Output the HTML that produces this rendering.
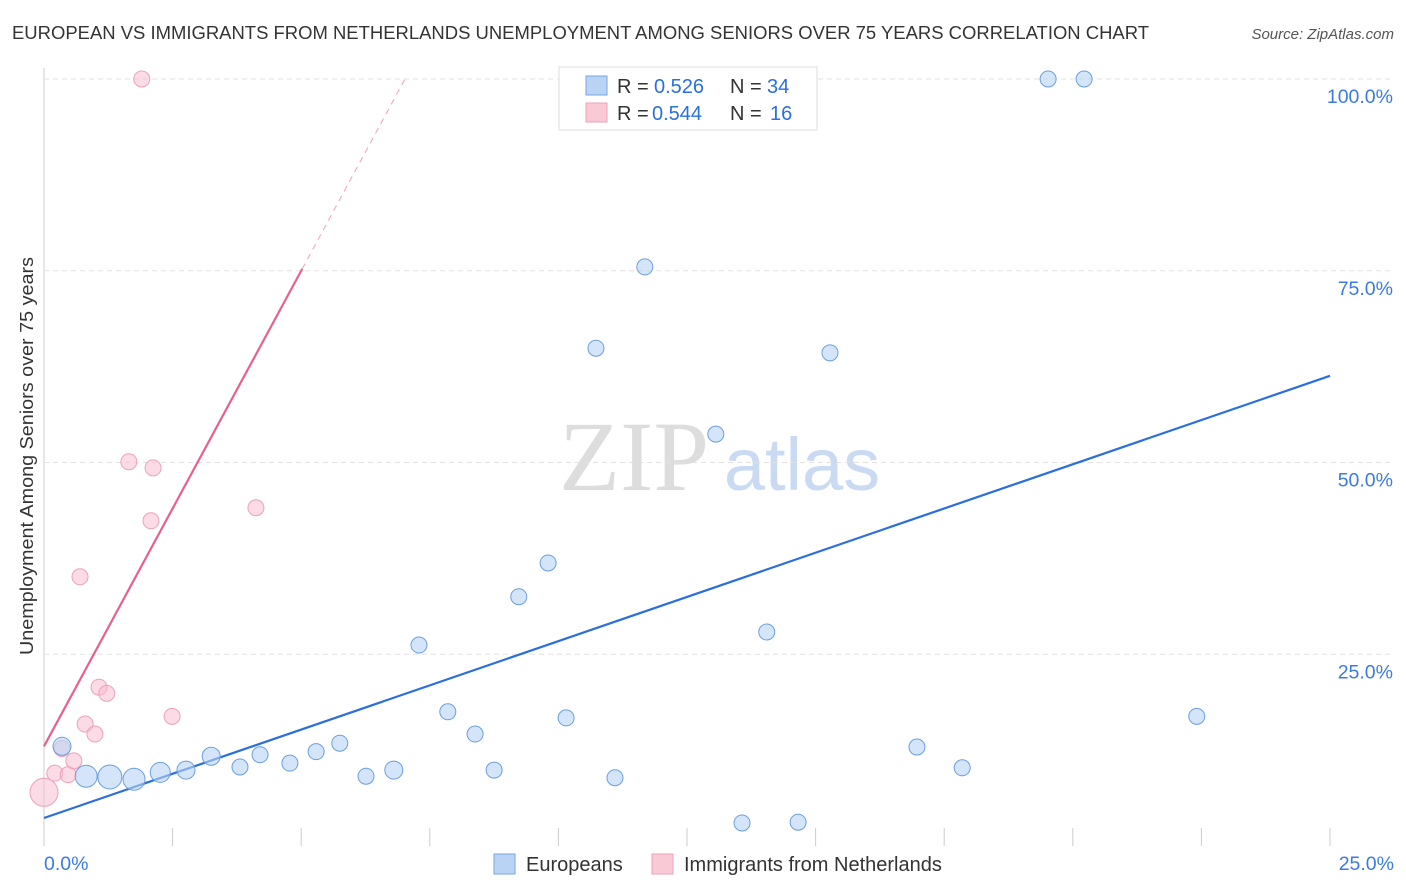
<!DOCTYPE html>
<html><head><meta charset="utf-8">
<style>
body{margin:0;background:#fff;font-family:"Liberation Sans",sans-serif;}
#wrap{position:relative;width:1406px;height:892px;overflow:hidden}
</style></head>
<body>
<div id="wrap">
<svg id="svg" width="1406" height="892" xmlns="http://www.w3.org/2000/svg">
<text x="12" y="39" font-size="18" fill="#333" textLength="1137" lengthAdjust="spacingAndGlyphs">EUROPEAN VS IMMIGRANTS FROM NETHERLANDS UNEMPLOYMENT AMONG SENIORS OVER 75 YEARS CORRELATION CHART</text>
<text x="1394" y="39" font-size="15" fill="#555" font-style="italic" text-anchor="end">Source: ZipAtlas.com</text>
<text x="33" y="655" font-size="18" fill="#333" textLength="398" lengthAdjust="spacingAndGlyphs" transform="rotate(-90 33 655)">Unemployment Among Seniors over 75 years</text>
<g>
<text x="634" y="490" font-size="100" fill="#ddd" font-family="Liberation Serif" text-anchor="middle">ZIP</text>
<text x="802" y="490" font-size="74" fill="#c9daf2" text-anchor="middle">atlas</text>
</g>
<g id="grid"></g><g id="lines"></g><g id="pts"></g>
<g>
<rect x="559" y="67" width="258" height="63" fill="#fff" stroke="#ddd"/>
<rect x="586" y="76" width="21" height="19" fill="#b9d3f5" stroke="#7aa6e0"/>
<text x="617" y="93" font-size="20" fill="#333">R = </text><text x="654" y="93" font-size="20" fill="#2a6fdb">0.526</text>
<text x="730" y="93" font-size="20" fill="#333">N = </text><text x="767" y="93" font-size="20" fill="#2a6fdb">34</text>
<rect x="586" y="103" width="21" height="19" fill="#f9c9d6" stroke="#eea2b8"/>
<text x="617" y="120" font-size="20" fill="#333">R = </text><text x="652" y="120" font-size="20" fill="#2a6fdb">0.544</text>
<text x="730" y="120" font-size="20" fill="#333">N = </text><text x="770" y="120" font-size="20" fill="#2a6fdb">16</text>
</g>
<g>
<rect x="494" y="854" width="21" height="20" fill="#b9d3f5" stroke="#7aa6e0"/>
<text x="526" y="871" font-size="20" fill="#333">Europeans</text>
<rect x="652" y="854" width="21" height="20" fill="#f9c9d6" stroke="#eea2b8"/>
<text x="684" y="871" font-size="20" fill="#333">Immigrants from Netherlands</text>
</g>
</svg>
</div>
<script>
const xTicks=[0,25];
const yTicks=[25,50,75,100];
const euroX=[0.35,0.82,1.28,1.75,2.26,2.76,3.25,3.81,4.2,4.78,5.29,5.75,6.26,6.8,7.29,7.85,8.38,8.75,9.23,9.8,10.15,10.73,11.1,11.68,13.06,13.57,14.05,14.66,15.28,16.97,17.85,19.52,20.22,22.41];
const euroY=[13.0,9.1,9.0,8.7,9.6,9.9,11.7,10.3,11.9,10.8,12.3,13.4,9.1,9.9,26.2,17.5,14.6,9.9,32.5,36.9,16.7,64.9,8.9,75.5,53.7,3.0,27.9,3.1,64.3,12.9,10.2,100,100,16.9];
const euroR=[9,11,12,11,10,9,9,8,8,8,8,8,8,9,8,8,8,8,8,8,8,8,8,8,8,8,8,8,8,8,8,8,8,8];
const nethX=[0,0.21,0.47,0.58,0.7,0.8,0.99,1.07,1.22,1.65,1.9,2.08,2.12,2.49,4.12,0.35];
const nethY=[7.0,9.5,9.3,11.1,35.1,15.9,14.6,20.7,19.9,50.1,100,42.4,49.3,16.9,44.1,12.7];
const nethR=[14,8,8,8,8,8,8,8,8,8,8,8,8,8,8,8];
const euroFit=[3.65,2.306];
const nethFit=[13.0,12.4];
const X=v=>44+v/25*1286, Y=v=>846-v/100*767;
const NS="http://www.w3.org/2000/svg";
function mk(p,t,a){const e=document.createElementNS(NS,t);for(const k in a)e.setAttribute(k,a[k]);p.appendChild(e);return e;}
const grid=document.getElementById('grid'),lines=document.getElementById('lines'),pts=document.getElementById('pts');
const ax=mk(grid,'line',{x1:44,y1:68,x2:44,y2:846,stroke:'#ccc'});


yTicks.forEach(v=>{
 const l=mk(grid,'line',{x1:44,x2:1394,y1:Y(v),y2:Y(v),stroke:'#e2e2e2','stroke-dasharray':'5,4'});
 
 
 const t=mk(grid,'text',{x:1393,y:Y(v)+24,'font-size':19.5,fill:'#3b7be0','text-anchor':'end'});t.textContent=v.toFixed(1)+'%';
 
 
});
for(let i=0;i<=10;i++){const x=44+i*128.6;
 const l=mk(grid,'line',{x1:x,x2:x,y1:828,y2:846,stroke:'#ccc'});
 
 }
xTicks.forEach((v,i)=>{const t=mk(grid,'text',{x:i?1394:44,y:870,'font-size':19.5,fill:'#3b7be0','text-anchor':i?'end':'start'});t.textContent=v.toFixed(1)+'%';
 
 });
const bl=mk(lines,'line',{x1:X(0),y1:Y(euroFit[0]),x2:X(25),y2:Y(euroFit[0]+25*euroFit[1]),stroke:'#2a6fdb','stroke-width':2.2});


const xs=5.02, xe=(100-nethFit[0])/nethFit[1];
const pl=mk(lines,'line',{x1:X(0),y1:Y(nethFit[0]),x2:X(xs),y2:Y(nethFit[0]+xs*nethFit[1]),stroke:'#e8608e','stroke-width':2.2});


const pd=mk(lines,'line',{x1:X(xs),y1:Y(nethFit[0]+xs*nethFit[1]),x2:X(xe),y2:Y(100),stroke:'#eea2b8','stroke-width':1,'stroke-dasharray':'6,5'});


nethX.forEach((v,i)=>{const c=mk(pts,'circle',{cx:X(v),cy:Y(nethY[i]),r:nethR[i],fill:'rgba(248,190,207,0.55)',stroke:'#eea2b8','stroke-width':1});
 
 });
euroX.forEach((v,i)=>{const c=mk(pts,'circle',{cx:X(v),cy:Y(euroY[i]),r:euroR[i],fill:'rgba(185,211,245,0.6)',stroke:'#6c9ee0','stroke-width':1});
 
 });
</script>
</body></html>
